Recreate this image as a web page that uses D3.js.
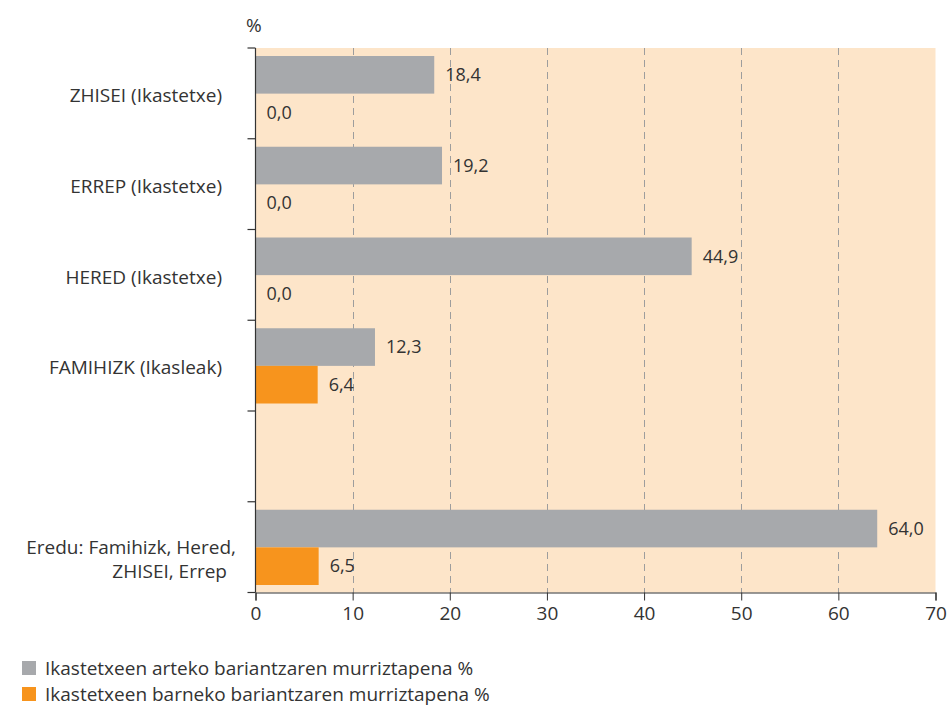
<!DOCTYPE html>
<html>
<head>
<meta charset="utf-8">
<script src="https://cdn.jsdelivr.net/npm/d3@7"></script>
<style>
  html, body { margin: 0; padding: 0; background: #fff; }
  svg { display: block; font-family: "Open Sans", "Noto Sans", sans-serif; }
</style>
</head>
<body>
<svg id="chart" width="949" height="708"></svg>
<script>
const categories = [
  ["ZHISEI (Ikastetxe)"],
  ["ERREP (Ikastetxe)"],
  ["HERED (Ikastetxe)"],
  ["FAMIHIZK (Ikasleak)"],
  [""],
  ["Eredu: Famihizk, Hered,", "ZHISEI, Errep"]
];
const between = [18.4, 19.2, 44.9, 12.3, null, 64.0];
const within = [0.0, 0.0, 0.0, 6.4, null, 6.5];
const seriesNames = [
  "Ikastetxeen arteko bariantzaren murriztapena %",
  "Ikastetxeen barneko bariantzaren murriztapena %"
];
const xTicks = [0, 10, 20, 30, 40, 50, 60, 70];
const unitLabel = "%";

const colors = ["#a7a9ac", "#f7941d"];
const textColor = "#333333";
const margin = { left: 255.5, right: 935.5, top: 48, bottom: 592.5 };

const svg = d3.select("#chart");
const keys = categories.map((c, i) => "c" + i);

const x = d3.scaleLinear().domain([0, 70]).range([margin.left, margin.right]);
const y = d3.scaleBand().domain(keys).range([margin.top, margin.bottom]).paddingInner(0).paddingOuter(0);
const ySub = d3.scaleBand().domain([0, 1]).range([8, y.bandwidth() - 7.5]).padding(0);

// background
svg.append("rect")
  .attr("x", margin.left).attr("y", margin.top)
  .attr("width", margin.right - margin.left)
  .attr("height", margin.bottom - margin.top)
  .attr("fill", "#fde5c9");

// gridlines
svg.append("g").selectAll("line")
  .data(xTicks.filter(t => t > 0 && t < 70))
  .join("line")
  .attr("x1", d => Math.round(x(d)) + 0.5).attr("x2", d => Math.round(x(d)) + 0.5)
  .attr("y1", margin.top).attr("y2", margin.bottom)
  .attr("stroke", "#9d9d9d").attr("stroke-width", 1)
  .attr("stroke-dasharray", "7,5");

// bars
const rows = categories.map((c, i) => ({ key: keys[i], vals: [between[i], within[i]] }));
const g = svg.append("g");
rows.forEach(r => {
  r.vals.forEach((v, j) => {
    if (v === null) return;
    const y0 = y(r.key) + ySub(j);
    g.append("rect")
      .attr("x", x(0)).attr("y", y0)
      .attr("width", x(v) - x(0)).attr("height", ySub.bandwidth())
      .attr("fill", colors[j]);
    g.append("text")
      .attr("x", x(v) + 11).attr("y", y0 + ySub.bandwidth() / 2)
      .attr("dy", "0.35em")
      .attr("font-size", 18).attr("fill", textColor)
      .text(d3.format(".1f")(v).replace(".", ","));
  });
});

// x axis
const xAxis = d3.axisBottom(x).tickValues(xTicks).tickSize(8).tickPadding(6).tickFormat(d => d);
const gx = svg.append("g").attr("transform", `translate(0,${margin.bottom})`).call(xAxis);
gx.select(".domain").attr("stroke", "#333").attr("stroke-width", 1.2);
gx.selectAll(".tick line").attr("stroke", "#333");
gx.selectAll("text").attr("font-size", 19).attr("fill", textColor)
  .attr("font-family", "'Open Sans', sans-serif");

// y axis line and boundary ticks
svg.append("line")
  .attr("x1", margin.left).attr("x2", margin.left)
  .attr("y1", margin.top).attr("y2", margin.bottom)
  .attr("stroke", "#333").attr("stroke-width", 1.2);
const bounds = keys.map(k => y(k)).concat([margin.bottom]);
svg.append("g").selectAll("line").data(bounds).join("line")
  .attr("x1", margin.left - 8).attr("x2", margin.left)
  .attr("y1", d => d).attr("y2", d => d)
  .attr("stroke", "#333").attr("stroke-width", 1.2);

// category labels
categories.forEach((lines, i) => {
  const cy = y(keys[i]) + y.bandwidth() / 2 + (lines.length > 1 ? 12 : 2);
  lines.forEach((ln, k) => {
    svg.append("text")
      .attr("text-anchor", "end")
      .attr("font-size", 19).attr("fill", textColor)
      .attr("x", lines.length > 1 ? (k === 0 ? 236 : 227) : 222)
      .attr("y", cy + (k - (lines.length - 1) / 2) * 24)
      .attr("dy", "0.35em")
      .text(ln);
  });
});

// unit label
svg.append("text").attr("x", 246).attr("y", 32)
  .attr("font-size", 19).attr("fill", textColor).text(unitLabel);

// legend
const lg = svg.append("g");
seriesNames.forEach((name, i) => {
  const ly = 668 + i * 26;
  lg.append("rect").attr("x", 22).attr("y", ly - 7).attr("width", 14).attr("height", 14).attr("fill", colors[i]);
  lg.append("text").attr("x", 45).attr("y", ly).attr("dy", "0.35em")
    .attr("font-size", 19).attr("fill", textColor).text(name);
});
</script>
</body>
</html>
